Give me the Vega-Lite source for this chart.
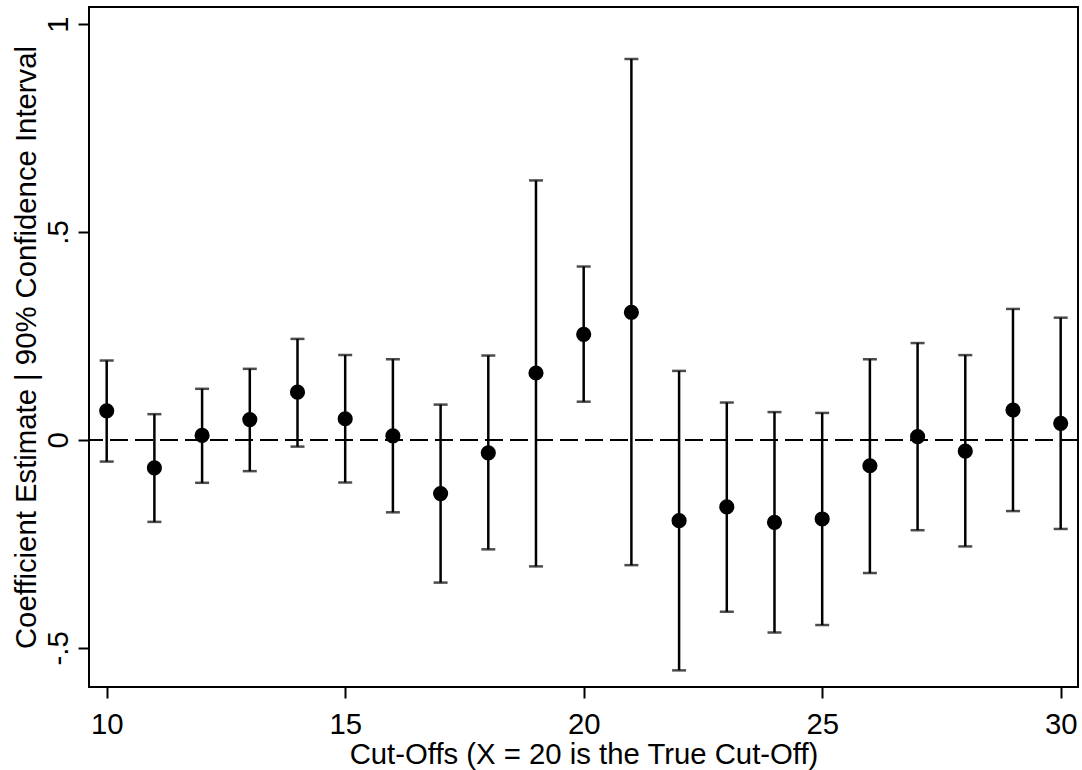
{
  "$schema": "https://vega.github.io/schema/vega-lite/v6.json",
  "width": 989,
  "height": 680,
  "autosize": {"type": "none"},
  "padding": {"left": 89, "top": 7, "right": 4, "bottom": 83},
  "background": "white",
  "config": {
    "view": {"stroke": "black", "strokeWidth": 2},
    "font": "Liberation Sans"
  },
  "data": {
    "values": [
      {"cutoff": 10, "coef": 0.070, "lo": -0.052, "hi": 0.191},
      {"cutoff": 11, "coef": -0.067, "lo": -0.197, "hi": 0.062},
      {"cutoff": 12, "coef": 0.011, "lo": -0.103, "hi": 0.123},
      {"cutoff": 13, "coef": 0.049, "lo": -0.075, "hi": 0.171},
      {"cutoff": 14, "coef": 0.115, "lo": -0.016, "hi": 0.243},
      {"cutoff": 15, "coef": 0.051, "lo": -0.102, "hi": 0.204},
      {"cutoff": 16, "coef": 0.010, "lo": -0.174, "hi": 0.194},
      {"cutoff": 17, "coef": -0.129, "lo": -0.343, "hi": 0.085},
      {"cutoff": 18, "coef": -0.031, "lo": -0.263, "hi": 0.203},
      {"cutoff": 19, "coef": 0.161, "lo": -0.304, "hi": 0.624},
      {"cutoff": 20, "coef": 0.254, "lo": 0.092, "hi": 0.417},
      {"cutoff": 21, "coef": 0.307, "lo": -0.301, "hi": 0.916},
      {"cutoff": 22, "coef": -0.194, "lo": -0.554, "hi": 0.166},
      {"cutoff": 23, "coef": -0.161, "lo": -0.413, "hi": 0.090},
      {"cutoff": 24, "coef": -0.198, "lo": -0.463, "hi": 0.067},
      {"cutoff": 25, "coef": -0.190, "lo": -0.445, "hi": 0.065},
      {"cutoff": 26, "coef": -0.062, "lo": -0.320, "hi": 0.194},
      {"cutoff": 27, "coef": 0.008, "lo": -0.217, "hi": 0.233},
      {"cutoff": 28, "coef": -0.027, "lo": -0.256, "hi": 0.204},
      {"cutoff": 29, "coef": 0.072, "lo": -0.171, "hi": 0.315},
      {"cutoff": 30, "coef": 0.040, "lo": -0.214, "hi": 0.294}
    ]
  },
  "layer": [
    {
      "mark": {"type": "rule", "color": "black", "strokeWidth": 2.5},
      "encoding": {
        "x": {
          "field": "cutoff", "type": "quantitative",
          "scale": {"domain": [9.629, 30.363], "nice": false, "zero": false},
          "axis": {
            "title": "Cut-Offs (X = 20 is the True Cut-Off)",
            "values": [10, 15, 20, 25, 30],
            "domain": false,
            "grid": false,
            "tickColor": "black",
            "tickWidth": 2,
            "tickSize": 11,
            "labelFontSize": 29.3,
            "labelColor": "black",
            "labelBaseline": "top",
            "labelPadding": 12,
            "labelFlush": false,
            "labelOverlap": false,
            "titleFontSize": 29.3,
            "titleFontWeight": "normal",
            "titleColor": "black",
            "titleBaseline": "alphabetic",
            "titleY": 76
          }
        },
        "y": {
          "field": "lo", "type": "quantitative",
          "scale": {"domain": [-0.594, 1.041], "nice": false, "zero": false},
          "axis": {
            "title": "Coefficient Estimate | 90% Confidence Interval",
            "values": [-0.5, 0, 0.5, 1],
            "labelExpr": "datum.value == 0.5 ? '.5' : datum.value == -0.5 ? '-.5' : format(datum.value, 'd')",
            "domain": false,
            "grid": false,
            "tickColor": "black",
            "tickWidth": 2,
            "tickSize": 11,
            "labelFontSize": 29.3,
            "labelColor": "black",
            "labelAngle": -90,
            "labelAlign": "center",
            "labelBaseline": "alphabetic",
            "labelPadding": 11,
            "labelFlush": false,
            "labelOverlap": false,
            "titleFontSize": 29.3,
            "titleFontWeight": "normal",
            "titleColor": "black",
            "titleAngle": -90,
            "titleAlign": "center",
            "titleBaseline": "alphabetic",
            "titleX": -54,
            "titleY": 340
          }
        },
        "y2": {"field": "hi"}
      }
    },
    {
      "mark": {"type": "rule", "color": "black", "strokeWidth": 2, "strokeDash": [18, 7]},
      "encoding": {
        "y": {"datum": 0, "type": "quantitative", "title": "Coefficient Estimate | 90% Confidence Interval"}
      }
    },
    {
      "mark": {"type": "tick", "orient": "horizontal", "color": "black", "size": 14, "thickness": 2.5},
      "encoding": {
        "x": {"field": "cutoff", "type": "quantitative", "title": "Cut-Offs (X = 20 is the True Cut-Off)"},
        "y": {"field": "lo", "type": "quantitative", "title": "Coefficient Estimate | 90% Confidence Interval"}
      }
    },
    {
      "mark": {"type": "tick", "orient": "horizontal", "color": "black", "size": 14, "thickness": 2.5},
      "encoding": {
        "x": {"field": "cutoff", "type": "quantitative", "title": "Cut-Offs (X = 20 is the True Cut-Off)"},
        "y": {"field": "hi", "type": "quantitative", "title": "Coefficient Estimate | 90% Confidence Interval"}
      }
    },
    {
      "mark": {"type": "circle", "color": "black", "size": 230, "opacity": 1},
      "encoding": {
        "x": {"field": "cutoff", "type": "quantitative", "title": "Cut-Offs (X = 20 is the True Cut-Off)"},
        "y": {"field": "coef", "type": "quantitative", "title": "Coefficient Estimate | 90% Confidence Interval"}
      }
    }
  ]
}
